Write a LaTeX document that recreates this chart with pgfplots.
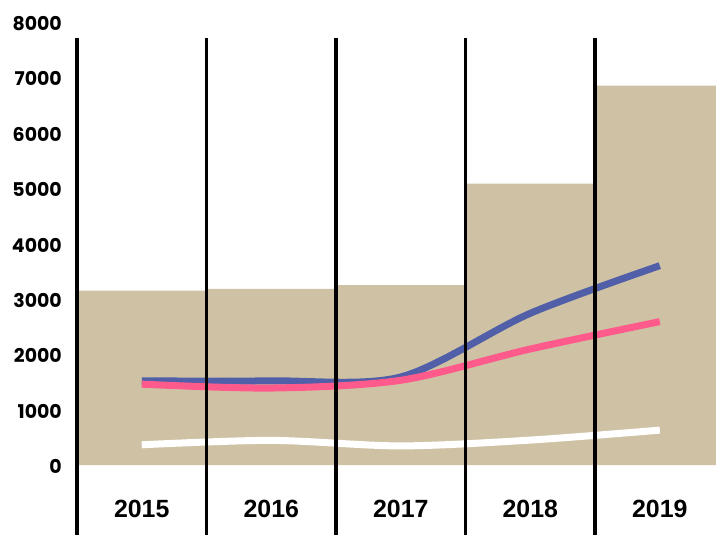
\documentclass[border=0pt]{standalone}
\usepackage{pgfplots}
\pgfplotsset{compat=1.18}
\usepackage{fontspec}
\setmainfont{Poppins}
\newfontfamily\xfont{Liberation Sans}
\definecolor{tanbar}{HTML}{CFC2A4}
\definecolor{lineblue}{HTML}{505FA8}
\definecolor{linepink}{HTML}{FF5A8C}
\tikzset{xlabelfont/.style={font=\xfont\bfseries\fontsize{25}{28}\selectfont}}
\begin{document}
\begin{tikzpicture}
\useasboundingbox (-77bp,0) rectangle (639bp,535bp);
\begin{axis}[
  scale only axis, width=639bp, height=535bp,
  xmin=-0.5, xmax=4.434, ymin=-1264, ymax=8398,
  clip=false,
  axis line style={draw=none}, tick style={draw=none},
  xtick=\empty,
  ytick={0,1000,2000,3000,4000,5000,6000,7000,8000},
  yticklabels={0,1000,2000,3000,4000,5000,6000,7000,8000},
  yticklabel style={font=\bfseries\fontsize{19}{21}\selectfont, anchor=east, inner sep=0pt, xshift=-15bp, yshift=-1.5bp},
]
\addplot[ybar, bar width=1, fill=tanbar, draw=none] coordinates {(0,3150) (1,3180) (2,3250) (3,5080) (4,6850)};
\addplot[lineblue, line width=7bp, smooth] coordinates {(0,1520) (1,1520) (2,1590) (3,2740) (4,3600)};
\addplot[linepink, line width=7bp, smooth] coordinates {(0,1460) (1,1390) (2,1530) (3,2095) (4,2590)};
\addplot[white, line width=7bp, smooth] coordinates {(0,365) (1,445) (2,345) (3,450) (4,630)};
\addplot[black, line width=3.3bp] coordinates {(-0.5,7712) (-0.5,-1300)};
\addplot[black, line width=3.3bp] coordinates {(0.5,7712) (0.5,-1300)};
\addplot[black, line width=3.3bp] coordinates {(1.5,7712) (1.5,-1300)};
\addplot[black, line width=3.3bp] coordinates {(2.5,7712) (2.5,-1300)};
\addplot[black, line width=3.3bp] coordinates {(3.5,7712) (3.5,-1300)};
\node[xlabelfont] at (axis cs:0,-785) {2015};
\node[xlabelfont] at (axis cs:1,-785) {2016};
\node[xlabelfont] at (axis cs:2,-785) {2017};
\node[xlabelfont] at (axis cs:3,-785) {2018};
\node[xlabelfont] at (axis cs:4,-785) {2019};
\end{axis}
\end{tikzpicture}
\end{document}
